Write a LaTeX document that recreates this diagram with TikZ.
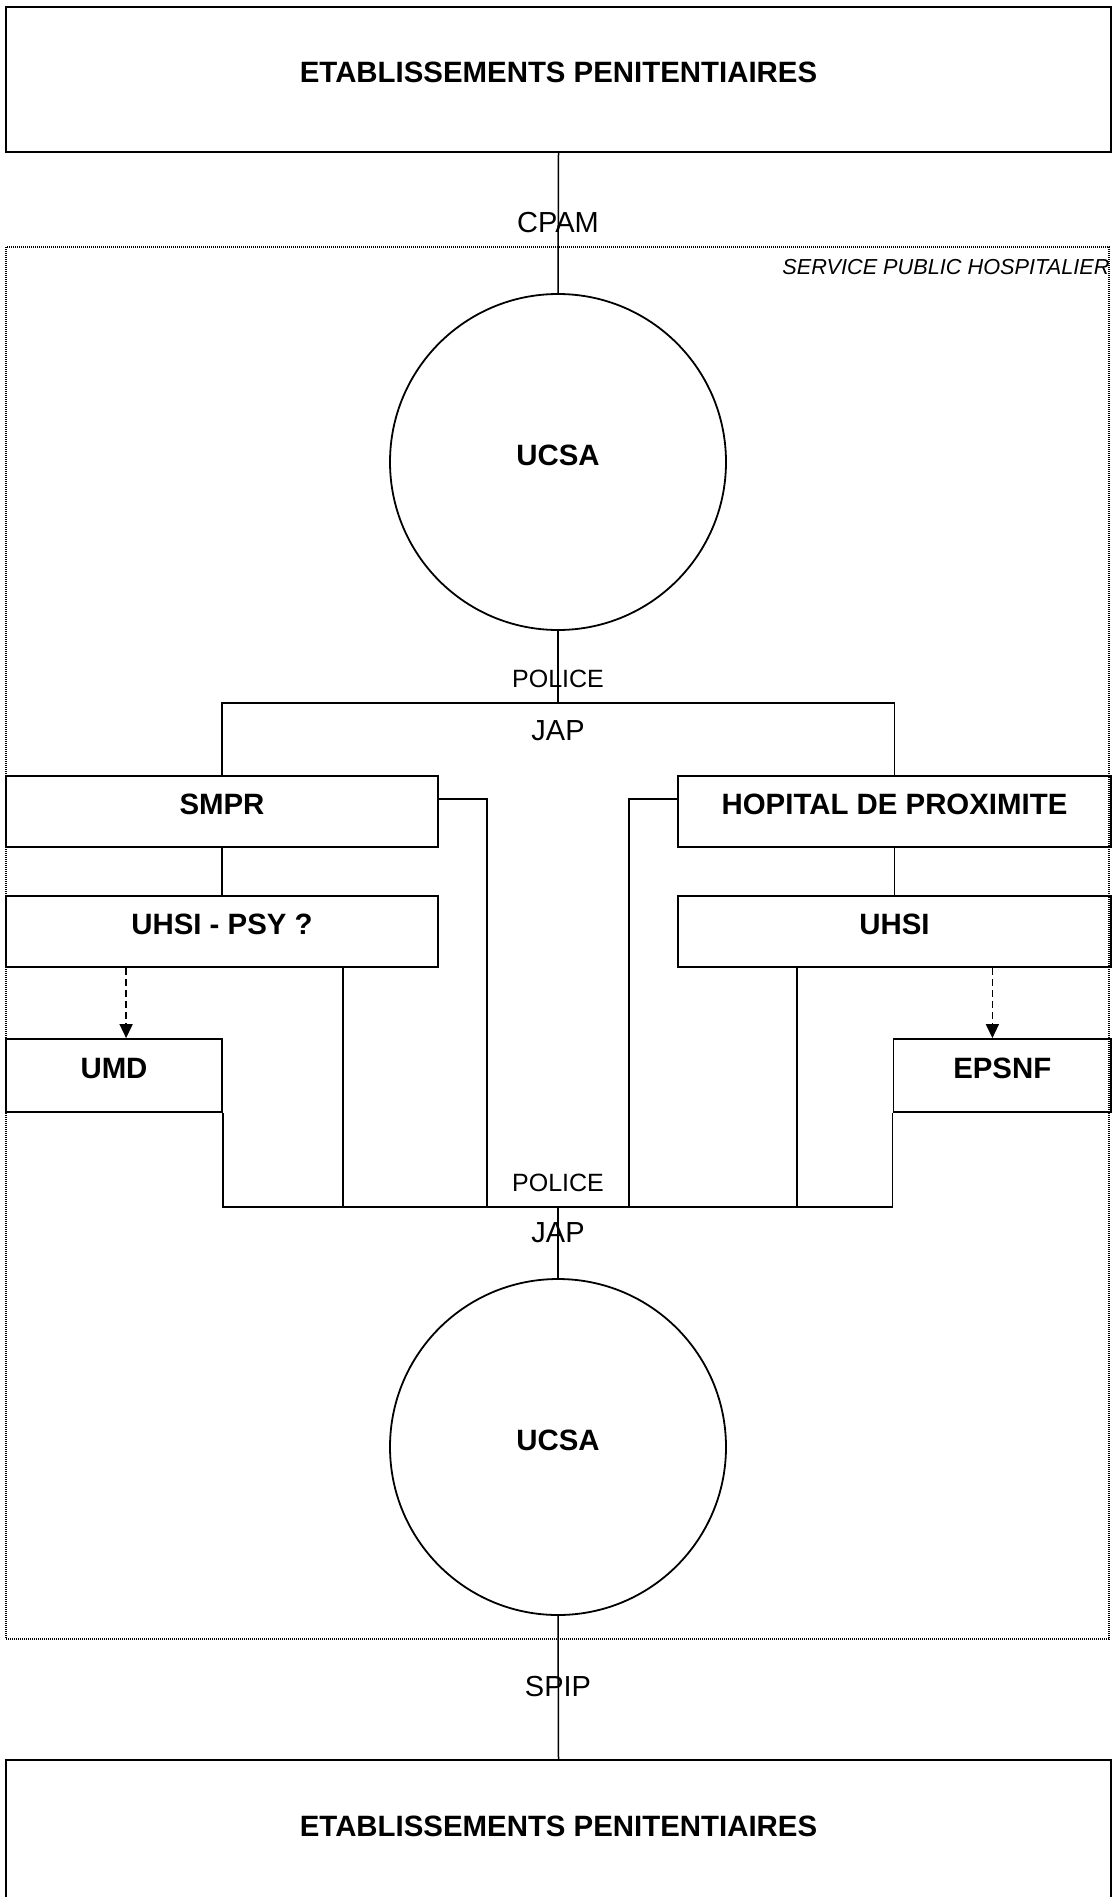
\documentclass[tikz,border=0pt]{standalone}
\usepackage{fontspec}
\setmainfont{Liberation Sans}
\usetikzlibrary{arrows.meta}

\begin{document}
\begin{tikzpicture}[x=1pt,y=-1pt,
  box/.style={draw,line width=1.8pt,inner sep=0pt,font=\fontsize{29.4}{29.4}\selectfont\bfseries,text height=21pt,text depth=15pt},
  hub/.style={draw,circle,line width=1.8pt,inner sep=0pt,minimum size=336pt,font=\fontsize{29.4}{29.4}\selectfont\bfseries,text height=21pt,text depth=15pt},
  link/.style={line width=1.5pt},
  dashlink/.style={line width=1.5pt,dash pattern=on 7pt off 4pt,-{Triangle[length=14pt,width=13pt]}},
  lbl/.style={inner sep=0pt,font=\fontsize{29}{29}\selectfont,text height=20.5pt,text depth=0pt},
  smalllbl/.style={inner sep=0pt,font=\fontsize{25}{25}\selectfont,text height=18pt,text depth=0pt}]
\useasboundingbox (0,0) rectangle (1113,1897);
\node[draw,line width=1.5pt,dash pattern=on 1pt off 1pt,minimum width=1103pt,minimum height=1392pt,inner sep=0pt] (sph) at (557.5,943) {};
\node[anchor=base east,inner sep=0pt,font=\fontsize{21.7}{21.7}\selectfont\itshape] (sphlbl) at ([yshift=-28.5pt]sph.north east) {SERVICE PUBLIC HOSPITALIER};
\node[box,minimum width=1105pt,minimum height=145pt] (topEP) at (558.5,79.5) {ETABLISSEMENTS PENITENTIAIRES};
\node[box,minimum width=1105pt,minimum height=146pt] (botEP) at (558.5,1833) {ETABLISSEMENTS PENITENTIAIRES};
\node[hub] (ucsa1) at (558,462) {UCSA};
\node[hub] (ucsa2) at (558,1447) {UCSA};
\node[box,minimum width=432pt,minimum height=71pt] (smpr) at (222,811.5) {SMPR};
\node[box,minimum width=433pt,minimum height=71pt] (hop) at (894.5,811.5) {HOPITAL DE PROXIMITE};
\node[box,minimum width=432pt,minimum height=71pt] (uhsipsy) at (222,931.5) {UHSI - PSY ?};
\node[box,minimum width=433pt,minimum height=71pt] (uhsi) at (894.5,931.5) {UHSI};
\node[box,minimum width=216pt,minimum height=73pt] (umd) at (114,1075.5) {UMD};
\node[box,minimum width=217.5pt,minimum height=73pt] (epsnf) at (1002.25,1075.5) {EPSNF};
\coordinate (jtop) at (558,703);
\coordinate (jbot) at (558,1207);
\coordinate (smprout) at ([yshift=12.5pt]smpr.east);
\coordinate (hopout) at ([yshift=12.5pt]hop.west);
\coordinate (psyout) at ([xshift=-96pt]uhsipsy.south east);
\coordinate (uhsiout) at ([xshift=120pt]uhsi.south west);
\coordinate (psyarrow) at ([xshift=121pt]uhsipsy.south west);
\coordinate (uhsiarrow) at ([xshift=-119.5pt]uhsi.south east);
\draw[link] (topEP.south) -- (ucsa1.north);
\draw[link] (ucsa1.south) -- (jtop);
\draw[link] (smpr.north) |- (jtop) -| (hop.north);
\draw[link] (smpr.south) -- (uhsipsy.north);
\draw[link] (hop.south) -- (uhsi.north);
\draw[link] (umd.south east) |- (jbot) -| (epsnf.south west);
\draw[link] (psyout) -- (psyout |- jbot);
\draw[link] (uhsiout) -- (uhsiout |- jbot);
\draw[link] (smprout) -- ++(48,0) coordinate (smprturn) -- (smprturn |- jbot);
\draw[link] (hopout) -- ++(-48,0) coordinate (hopturn) -- (hopturn |- jbot);
\draw[link] (jbot) -- (ucsa2.north);
\draw[link] (ucsa2.south) -- (botEP.north);
\draw[dashlink] (psyarrow) -- (psyarrow |- umd.north);
\draw[dashlink] (uhsiarrow) -- (uhsiarrow |- epsnf.north);
\node[lbl] (cpam) at (558,222) {CPAM};
\node[smalllbl] (policetop) at (558,678) {POLICE};
\node[lbl] (japtop) at (558,730) {JAP};
\node[smalllbl] (policebot) at (558,1182) {POLICE};
\node[lbl] (japbot) at (558,1232) {JAP};
\node[lbl] (spip) at (558,1686) {SPIP};
\end{tikzpicture}
\end{document}
